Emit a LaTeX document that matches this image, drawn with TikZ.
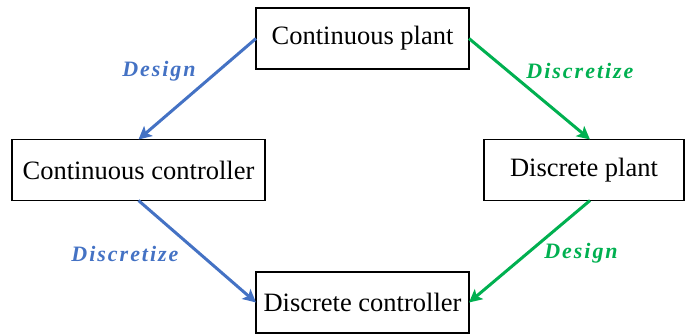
\documentclass[tikz,border=0pt]{standalone}
\usepackage{fontspec}
\setmainfont{Liberation Serif}
\newfontfamily\labfont[LetterSpace=9]{Liberation Serif}
\usetikzlibrary{arrows.meta}
\definecolor{myblue}{HTML}{4472C4}
\definecolor{mygreen}{HTML}{00B050}
\begin{document}
\begin{tikzpicture}[x=1pt,y=-1pt,
  box/.style={draw, line width=1.4pt, inner sep=0pt, minimum height=61pt, font=\fontsize{26.5}{30}\selectfont, outer sep=0pt},
  conn/.style={line width=3pt, -{Stealth[length=13pt,width=13pt,inset=3pt]}},
  lab/.style={font=\fontsize{22}{26}\selectfont\labfont\bfseries\itshape}
]
\useasboundingbox (0,0) rectangle (685,334);
\node[box, minimum width=213pt] (cp) at (362.5,38.5) {Continuous plant};
\node[box, minimum width=253pt] (cc) at (138.5,170) {Continuous controller};
\node[box, minimum width=200pt] (dp) at (584,170) {Discrete plant};
\node[box, minimum width=213pt] (dc) at (362.5,302.5) {Discrete controller};
\draw[conn, myblue] (cp.west) -- (cc.north);
\draw[conn, mygreen] (cp.east) -- ([xshift=6pt]dp.north);
\draw[conn, myblue] (cc.south) -- (dc.west);
\draw[conn, mygreen] ([xshift=6pt]dp.south) -- (dc.east);
\node[lab, text=myblue] (l1) at (159,71) {Design};
\node[lab, text=mygreen] (l2) at (580,71) {Discretize};
\node[lab, text=myblue] (l3) at (125,254) {Discretize};
\node[lab, text=mygreen] (l4) at (581,253) {Design};
\end{tikzpicture}
\end{document}
